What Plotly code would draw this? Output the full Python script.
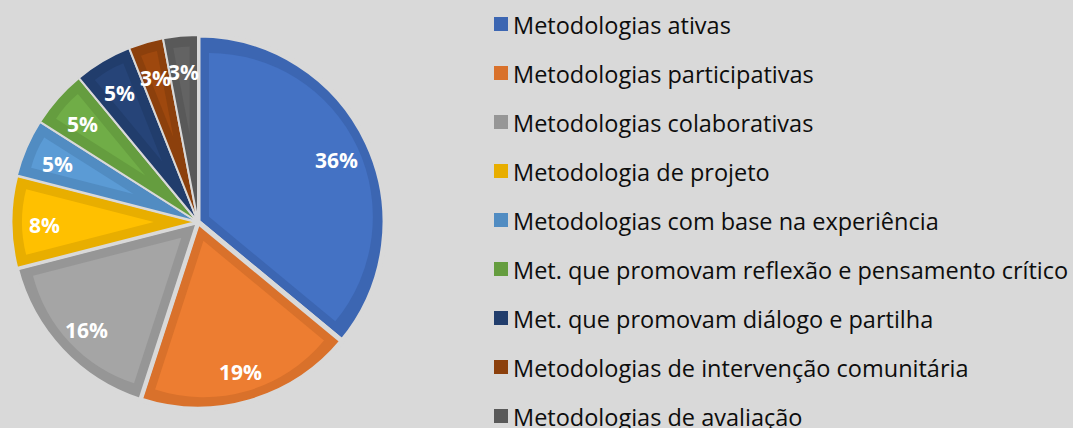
import math
import plotly.graph_objects as go

labels = [
    "Metodologias ativas",
    "Metodologias participativas",
    "Metodologias colaborativas",
    "Metodologia de projeto",
    "Metodologias com base na experiência",
    "Met. que promovam reflexão e pensamento crítico",
    "Met. que promovam diálogo e partilha",
    "Metodologias de intervenção comunitária",
    "Metodologias de avaliação",
]
values = [36, 19, 16, 8, 5, 5, 5, 3, 3]
fill_colors = ["#4472C4", "#ED7D31", "#A5A5A5", "#FFC000", "#5B9BD5",
               "#70AD47", "#264478", "#9E480E", "#636363"]
edge_colors = ["#3C66B2", "#D9712B", "#969696", "#E8AE00", "#518CC2",
               "#659D3F", "#213D6C", "#8C400C", "#595959"]
gap_widths = [5, 5, 4, 3, 2, 2, 2, 2, 2]

W, H = 1073, 428
BG = "#D9D9D9"
cx, cy = 198, 222          # pie centre (px, from top-left)
R = 187                    # outer radius (px)
BEVEL = 11                 # bevel band width (px)
total = sum(values)
n = len(values)
TRANSPARENT = "rgba(0,0,0,0)"


def domain_for(half):
    return dict(x=[(cx - half) / W, (cx + half) / W],
                y=[(H - cy - half) / H, (H - cy + half) / H])


fig = go.Figure()

# outer wedges in the darker bevel colour, separated by background gaps
fig.add_trace(go.Pie(
    labels=labels, values=values, sort=False, direction="clockwise", rotation=0,
    domain=domain_for(R), textinfo="none", showlegend=False,
    marker=dict(colors=edge_colors, line=dict(color=BG, width=gap_widths)),
    hoverinfo="label+percent",
))

# inner, lighter wedge of each slice: same angles, pushed outward so that its
# straight edges sit about BEVEL px inside the slice edges
for i, v in enumerate(values):
    half_angle = v / total * math.pi
    d = BEVEL / math.sin(min(half_angle, math.pi / 2))
    d = min(d, (R - BEVEL) / 2)          # plotly allows pull <= 1
    r_in = R - BEVEL - d
    p = d / r_in
    pulls = [0] * n
    pulls[i] = p
    cols = [TRANSPARENT] * n
    cols[i] = fill_colors[i]
    fig.add_trace(go.Pie(
        labels=labels, values=values, sort=False, direction="clockwise", rotation=0,
        pull=pulls, domain=domain_for(r_in * (1 + p)), textinfo="none",
        showlegend=False, hoverinfo="skip",
        marker=dict(colors=cols, line=dict(width=0)),
    ))

# percentage labels placed at slice mid-angles
cum = 0
annotations = []
for v in values:
    mid = (cum + v / 2) / total * 2 * math.pi
    cum += v
    r_lab = 0.82 * R
    px = cx + r_lab * math.sin(mid)
    py = cy - r_lab * math.cos(mid) + 3
    annotations.append(dict(
        x=px / W, y=1 - py / H, xref="paper", yref="paper",
        text=f"{round(v / total * 100)}%", showarrow=False,
        font=dict(family="Open Sans", size=21, color="white", weight="bold"),
        xanchor="center", yanchor="middle"))

# legend drawn from labels / colours
shapes = []
leg_x0, leg_top, leg_step, sq = 494, 24, 49, 14
for i, (lab, col) in enumerate(zip(labels, edge_colors)):
    yc = leg_top + i * leg_step
    shapes.append(dict(type="rect", xref="paper", yref="paper",
                       x0=leg_x0 / W, x1=(leg_x0 + sq) / W,
                       y0=1 - (yc + sq / 2) / H, y1=1 - (yc - sq / 2) / H,
                       fillcolor=col, line=dict(width=0)))
    annotations.append(dict(
        x=(leg_x0 + sq + 3) / W, y=1 - (yc + 1) / H, xref="paper", yref="paper",
        text=lab, showarrow=False, xanchor="left", yanchor="middle",
        font=dict(family="Open Sans", size=23.5, color="#0D0D0D")))

fig.update_layout(
    width=W, height=H, margin=dict(l=0, r=0, t=0, b=0),
    paper_bgcolor=BG, plot_bgcolor=BG,
    annotations=annotations, shapes=shapes, showlegend=False,
)

fig.write_html("out.html", config={"displayModeBar": False},
               post_script="document.body.style.margin='0px';"
                           "document.body.style.background='#D9D9D9';")
